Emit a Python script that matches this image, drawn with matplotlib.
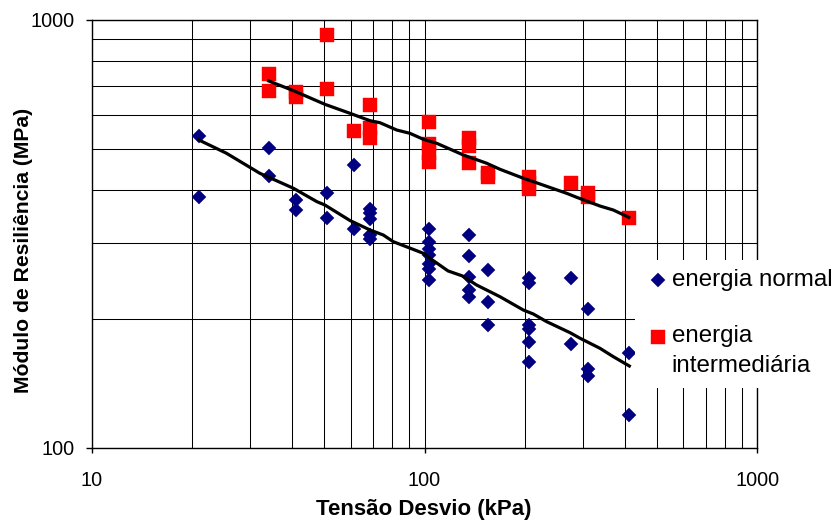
import matplotlib
matplotlib.use("Agg")
import matplotlib.pyplot as plt
from matplotlib.ticker import LogLocator, NullFormatter, FixedLocator, FixedFormatter
from matplotlib.patches import Rectangle
from matplotlib.lines import Line2D

plt.rcParams['font.family'] = ['Liberation Sans', 'DejaVu Sans']

# ---- data ----
normal_x = [21, 21, 34, 34, 41, 41, 51, 51, 61.5, 61.5,
            68.6, 68.6, 68.6, 68.6, 68.6,
            103, 103, 103, 103, 103, 103, 103,
            136.5, 136.5, 136.5, 136.5, 136.5,
            155, 155, 155,
            206.5, 206.5, 206.5, 206.5, 206.5, 206.5,
            275, 275, 310, 310, 310, 411, 411]
normal_y = [535, 386, 501, 432, 379, 359, 394, 345, 457, 324,
            362, 353, 342, 314, 307,
            324, 303, 292, 282, 268, 261, 247,
            314, 280, 251, 234, 225,
            260, 219, 194,
            249, 243, 194, 189, 177, 159,
            249, 175, 211, 153, 147, 166, 119]

inter_x = [34, 34, 41, 41, 51, 51, 61.5, 68.6, 68.6, 68.6,
           103, 103, 103, 103, 136.5, 136.5, 136.5, 155, 155,
           206.5, 206.5, 206.5, 275, 310, 310, 411]
inter_y = [746, 680, 676, 659, 921, 688, 550, 632, 557, 530,
           576, 511, 488, 466, 528, 507, 462, 438, 430,
           428, 415, 403, 416, 394, 386, 344]

trend_normal_x = [21.0, 25.4, 32.0, 40.4, 47.5, 50.2, 59.7, 68.6, 75.2, 80.6,
                  99.2, 103.9, 117.7, 130.1, 143.5, 168.6, 198.2, 212.3, 232.9,
                  273.6, 293.3, 336.7, 369.2, 412.5]
trend_normal_y = [523.5, 487.5, 437.7, 403.7, 375.7, 369.0, 339.5, 322.6, 314.0, 302.9,
                  284.6, 277.0, 258.8, 251.9, 239.9, 225.3, 209.7, 205.3, 197.0,
                  185.7, 180.2, 170.7, 163.2, 155.2]

trend_inter_x = [34.0, 40.4, 50.2, 59.7, 68.6, 73.5, 82.5, 90.4, 99.2, 108.8,
                 130.8, 153.8, 168.6, 198.2, 212.3, 267.6, 286.7, 336.7, 369.2, 410.8]
trend_inter_y = [719.4, 682.6, 634.3, 604.4, 580.8, 574.5, 552.4, 542.7, 525.5, 514.3,
                 483.0, 461.9, 447.2, 426.1, 418.4, 392.9, 384.6, 367.0, 359.2, 345.4]

x_ticks = [10, 100, 1000]
x_ticklabels = ['10', '100', '1000']
y_ticks = [100, 1000]
y_ticklabels = ['100', '1000']

label_normal = 'energia normal'
label_inter = ['energia', 'intermediária']

# ---- figure ----
W, H = 838, 522
fig = plt.figure(figsize=(W / 100, H / 100), dpi=100)

def fx(px):
    return px / W

def fy(py):
    return 1 - py / H

L, R, T, B = 91.7, 757.3, 19.7, 447.7
ax = fig.add_axes([fx(L), fy(B), fx(R) - fx(L), fy(T) - fy(B)])
ax.set_xscale('log')
ax.set_yscale('log')
ax.set_xlim(10, 1000)
ax.set_ylim(100, 1000)

ax.xaxis.set_major_locator(FixedLocator(x_ticks))
ax.xaxis.set_major_formatter(FixedFormatter(x_ticklabels))
ax.yaxis.set_major_locator(FixedLocator(y_ticks))
ax.yaxis.set_major_formatter(FixedFormatter(y_ticklabels))
ax.xaxis.set_minor_locator(LogLocator(base=10, subs=range(2, 10)))
ax.yaxis.set_minor_locator(LogLocator(base=10, subs=range(2, 10)))
ax.xaxis.set_minor_formatter(NullFormatter())
ax.yaxis.set_minor_formatter(NullFormatter())

ax.grid(which='both', color='black', linewidth=0.75)
ax.set_axisbelow(True)
for s in ax.spines.values():
    s.set_color('black')
    s.set_linewidth(1.0)

ax.tick_params(axis='x', which='major', length=3.6, width=1.0, pad=13.5,
               labelsize=14.3, direction='out', color='black')
ax.tick_params(axis='y', which='major', length=4.3, width=1.0, pad=7.7,
               labelsize=14.3, direction='out', color='black')
ax.tick_params(which='minor', length=0)

MS_D = 7.0
MS_S = 9.6
ax.plot(normal_x, normal_y, linestyle='none', marker='D', markersize=MS_D,
        markerfacecolor='#000080', markeredgecolor='#000080', markeredgewidth=0.3,
        zorder=3)
ax.plot(inter_x, inter_y, linestyle='none', marker='s', markersize=MS_S,
        markerfacecolor='#FF0000', markeredgecolor='#FF0000', markeredgewidth=0.3,
        zorder=3)
ax.plot(trend_normal_x, trend_normal_y, color='black', linewidth=2.3, zorder=4,
        solid_joinstyle='round')
ax.plot(trend_inter_x, trend_inter_y, color='black', linewidth=2.3, zorder=4,
        solid_joinstyle='round')

# axis titles
fig.text(fx(423.5), fy(509), 'Tensão Desvio (kPa)', ha='center', va='center',
         fontsize=16, fontweight='bold')
fig.text(fx(23.5), fy(250), 'Módulo de Resiliência (MPa)', ha='center', va='center',
         rotation=90, fontsize=15.2, fontweight='bold')

# legend (white box over the grid)
fig.add_artist(Rectangle((fx(635), fy(388)), fx(838) - fx(635), fy(260) - fy(388),
                         transform=fig.transFigure, facecolor='white',
                         edgecolor='none', zorder=5))
fig.add_artist(Line2D([fx(658.3)], [fy(280)], transform=fig.transFigure,
                      marker='D', markersize=MS_D, linestyle='none',
                      markerfacecolor='#000080', markeredgecolor='#000080',
                      markeredgewidth=0.3, zorder=6))
fig.add_artist(Line2D([fx(658.3)], [fy(336.7)], transform=fig.transFigure,
                      marker='s', markersize=MS_S, linestyle='none',
                      markerfacecolor='#FF0000', markeredgecolor='#FF0000',
                      markeredgewidth=0.3, zorder=6))
fig.text(fx(671.7), fy(285.7), label_normal, ha='left', va='baseline',
         fontsize=17.4, zorder=7)
fig.text(fx(671.7), fy(341.7), label_inter[0], ha='left', va='baseline',
         fontsize=17.4, zorder=7)
fig.text(fx(671.7), fy(371.7), label_inter[1], ha='left', va='baseline',
         fontsize=17.4, zorder=7)

fig.savefig('out.png', dpi=100)
